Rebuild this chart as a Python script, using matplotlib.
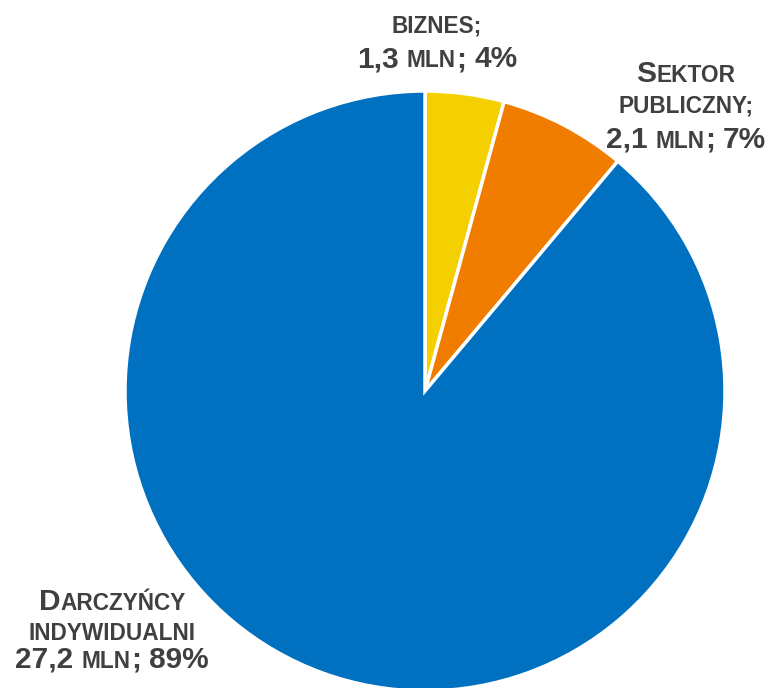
"""Pie chart of donor structure (Polish labels, small-caps style)."""

import matplotlib

matplotlib.use("Agg")
import matplotlib.pyplot as plt

labels = ["Biznes", "Sektor publiczny", "Darczyńcy indywidualni"]
values = [1.3, 2.1, 27.2]          # mln
shares = ["4%", "7%", "89%"]
colors = ["#F5D000", "#F07D00", "#0070C0"]

W, H = 770, 688
BIG, SMALL = 21.5, 16.3            # pt: capitals / small caps
TXT = "#404040"

plt.rcParams["font.family"] = ["Liberation Sans", "DejaVu Sans"]

fig = plt.figure(figsize=(W / 100, H / 100), dpi=100)
ax = fig.add_axes([0, 0, 1, 1])
ax.pie(values, colors=colors, startangle=90, counterclock=False,
       center=(425, H - 391), radius=300,
       wedgeprops=dict(edgecolor="white", linewidth=2.5))
ax.set_xlim(0, W)
ax.set_ylim(0, H)
ax.set_aspect("equal")
ax.axis("off")

renderer = fig.canvas.get_renderer()


def line(cx, base, segs):
    """Draw one centred line of (text, size) segments; None = a space."""
    parts = []
    for s in segs:
        if s is None:
            parts.append((None, 0.278 * BIG * 100 / 72))
            continue
        t = fig.text(0, 0, s[0], fontsize=s[1], fontweight="bold", color=TXT,
                     va="baseline", ha="left")
        parts.append((t, t.get_window_extent(renderer).width))
    x = cx - sum(w for _, w in parts) / 2
    for t, w in parts:
        if t is not None:
            t.set_position((x / W, 1 - base / H))
        x += w


def amount(v, pct):
    return [(f"{v:.1f}".replace(".", ","), BIG), None, ("MLN", SMALL),
            (";", BIG), None, (pct, BIG)]


# Biznes
line(437, 32, [("BIZNES;", SMALL)])
line(437, 67, amount(values[0], shares[0]))
# Sektor publiczny
line(686, 82, [("S", BIG), ("EKTOR", SMALL)])
line(686, 112, [("PUBLICZNY;", SMALL)])
line(686, 148, amount(values[1], shares[1]))
# Darczyńcy indywidualni
line(112, 610, [("D", BIG), ("ARCZYŃCY", SMALL)])
line(112, 640, [("INDYWIDUALNI", SMALL)])
line(112, 668, amount(values[2], shares[2]))

fig.savefig("out.png", dpi=100)
